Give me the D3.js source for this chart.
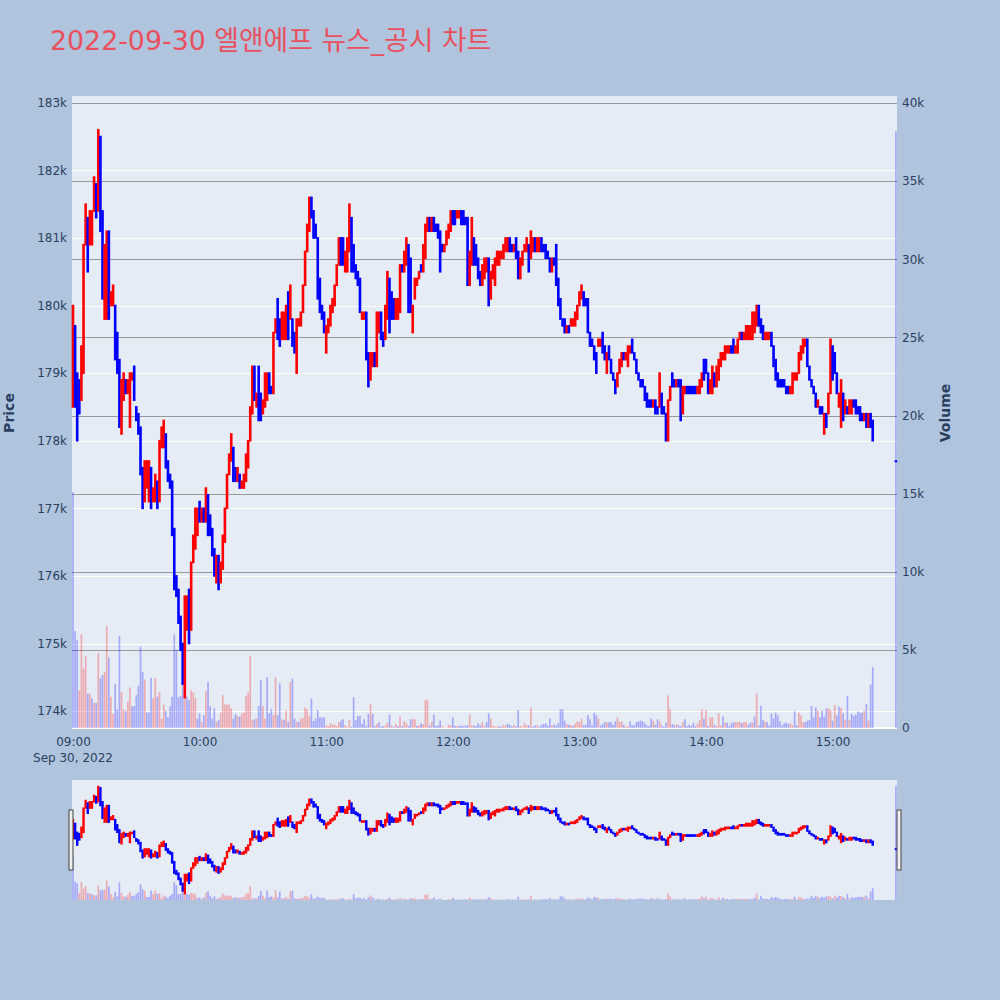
<!DOCTYPE html>
<html>
<head>
<meta charset="utf-8">
<script src="https://cdn.jsdelivr.net/npm/d3@7"></script>
<style>
  body { margin: 0; background: #b0c4de; }
  svg { display: block; font-family: "DejaVu Sans", "Noto Sans CJK KR", sans-serif; }
</style>
</head>
<body>
<div id="chart"></div>
<script>
// ---- data (prices in thousand won, one candle per minute from 09:00, plus the 15:30 close)
const chartTitle = "2022-09-30 엘앤에프 뉴스_공시 차트";
const firstMinute = "2022-09-30T09:00:00";
const lastMinute = "2022-09-30T15:19:00";
const closingAuction = "2022-09-30T15:30:00";

const opens = [
  178.5,179.7,179.0,178.9,178.6,179.0,180.9,181.3,180.9,180.9,181.4,181.8,181.4,182.5,181.4,179.8,179.8,181.1,180.0,180.0,
  180.0,179.6,179.2,178.1,178.6,178.9,178.7,178.2,178.9,179.1,178.5,178.4,178.2,177.6,177.1,177.3,177.1,177.6,177.1,177.1,
  177.4,177.1,177.9,177.9,178.1,177.7,177.5,177.4,176.7,176.0,175.8,175.4,175.0,174.2,175.2,175.8,175.2,176.2,176.4,176.6,
  177.1,176.8,177.0,176.8,177.2,176.9,176.7,176.4,175.9,176.3,175.9,176.1,176.5,177.0,177.5,177.7,177.9,177.6,177.4,177.5,
  177.3,177.3,177.4,177.6,178.0,178.4,179.1,178.5,179.1,178.7,178.4,178.5,178.6,179.0,178.8,178.7,179.6,180.1,179.8,179.5,
  179.5,179.5,180.2,179.8,179.8,179.6,179.0,179.7,179.7,179.9,180.3,180.8,181.1,181.6,181.4,181.2,181.0,180.4,180.0,179.9,
  179.3,179.6,179.7,179.9,180.0,180.3,180.6,181.0,181.0,180.5,180.5,180.8,181.3,180.9,180.6,180.5,180.4,179.8,179.8,179.9,
  179.3,178.9,179.1,179.3,179.1,179.6,179.9,179.6,179.5,179.8,180.4,180.2,180.1,179.8,179.8,179.9,180.6,180.5,180.6,180.9,
  180.7,179.6,180.1,180.3,180.4,180.6,180.5,180.7,181.1,181.3,181.1,181.3,181.2,181.2,181.1,180.9,180.8,180.9,181.0,181.1,
  181.4,181.4,181.3,181.3,181.4,181.4,181.3,181.3,180.3,180.6,181.0,180.9,180.7,180.5,180.3,180.4,180.5,180.7,180.1,180.4,
  180.3,180.6,180.6,180.7,180.7,180.8,180.8,181.0,180.9,180.8,181.0,180.8,180.4,180.6,180.8,180.8,180.9,180.7,180.8,181.0,
  180.8,180.8,181.0,180.9,180.9,180.8,180.7,180.5,180.7,180.9,180.4,180.1,179.8,179.8,179.6,179.7,179.7,179.7,179.7,179.8,
  180.0,180.1,180.2,180.1,180.1,179.6,179.5,179.4,179.3,179.4,179.4,179.6,179.4,179.0,179.4,179.2,179.0,178.9,178.8,179.0,
  179.1,179.3,179.2,179.1,179.3,179.5,179.3,179.2,179.0,178.9,178.9,178.8,178.7,178.6,178.6,178.5,178.6,178.5,178.5,178.7,
  178.5,178.4,178.0,178.6,179.0,178.9,178.8,178.9,178.9,178.4,178.7,178.8,178.8,178.8,178.8,178.8,178.7,178.7,178.8,179.2,
  179.2,179.0,178.7,178.7,179.0,178.8,178.9,179.1,179.2,179.2,179.3,179.3,179.4,179.5,179.3,179.3,179.5,179.6,179.5,179.5,
  179.5,179.5,179.5,179.6,179.7,180.0,179.8,179.7,179.5,179.5,179.5,179.6,179.4,179.2,179.0,178.9,178.9,178.9,178.8,178.8,
  178.7,178.7,178.9,178.9,179.0,179.2,179.3,179.4,179.5,179.1,178.9,178.8,178.7,178.5,178.5,178.5,178.1,178.4,178.4,178.7,
  179.4,179.3,179.0,178.5,178.2,178.7,178.4,178.5,178.4,178.4,178.6,178.6,178.5,178.5,178.4,178.3,178.4,178.2,178.4,178.3,
  177.7
];
const closes = [
  180.0,178.5,178.0,178.4,179.4,180.9,181.5,180.5,181.4,181.4,181.9,181.3,182.6,181.1,180.1,180.9,181.1,179.8,180.2,180.3,
  179.2,179.0,178.2,178.9,179.0,178.7,178.9,179.0,179.0,178.6,178.3,178.1,177.5,177.0,177.7,177.7,177.7,177.0,177.3,177.5,
  177.0,178.0,178.2,178.3,177.6,177.4,177.3,176.6,175.8,175.7,175.3,174.9,174.4,175.7,175.7,175.0,176.2,176.6,177.0,177.0,
  176.8,177.0,176.8,177.3,176.6,176.6,176.3,176.0,176.3,175.8,176.2,176.6,177.0,177.5,177.8,178.1,177.4,177.4,177.6,177.3,
  177.4,177.5,177.8,178.0,178.5,179.1,178.6,178.7,178.3,178.3,178.6,179.0,179.0,178.7,178.7,179.6,179.8,179.5,179.4,179.9,
  179.9,180.0,179.5,180.3,179.4,179.3,179.8,179.8,179.9,180.3,180.8,181.2,181.6,181.3,181.0,181.0,180.1,179.9,179.8,179.6,
  179.7,179.8,180.0,180.1,180.3,180.6,181.0,180.6,180.6,180.8,181.0,181.5,180.5,180.5,180.4,180.3,179.9,179.9,179.9,179.2,
  178.8,179.3,179.3,179.1,179.9,179.9,179.5,179.4,180.0,180.5,179.6,179.8,179.8,180.1,180.1,180.6,180.5,180.8,181.0,179.9,
  179.9,180.0,180.4,180.4,180.5,180.5,180.9,181.2,181.3,181.1,181.3,181.1,181.1,181.0,180.5,180.8,180.9,181.1,181.2,181.4,
  181.2,181.2,181.4,181.4,181.2,181.2,181.2,180.3,180.8,181.3,180.6,180.6,180.4,180.3,180.6,180.7,180.7,180.0,180.5,180.6,
  180.7,180.8,180.8,180.8,180.9,181.0,181.0,180.8,180.8,180.9,180.7,180.4,180.7,180.8,180.9,181.0,180.5,181.1,181.0,180.8,
  181.0,181.0,180.8,180.8,180.7,180.7,180.5,180.7,180.6,180.3,180.0,179.8,179.7,179.6,179.7,179.6,179.8,179.8,179.9,180.0,
  180.2,180.3,180.0,180.0,179.6,179.4,179.4,179.2,179.0,179.5,179.5,179.3,179.2,179.3,179.2,179.0,178.9,178.7,179.0,179.2,
  179.3,179.2,179.3,179.4,179.4,179.3,179.2,179.0,178.9,178.8,178.8,178.6,178.5,178.5,178.5,178.6,178.4,178.4,179.0,178.4,
  178.4,178.0,178.6,178.8,178.8,178.8,178.9,178.8,178.3,178.8,178.8,178.7,178.7,178.7,178.7,178.7,178.8,178.9,179.0,178.9,
  179.0,178.7,178.9,179.1,178.8,179.1,179.2,179.3,179.3,179.4,179.4,179.4,179.3,179.3,179.4,179.5,179.6,179.5,179.6,179.7,
  179.7,179.7,179.9,179.9,180.0,179.7,179.6,179.5,179.6,179.6,179.6,179.4,179.1,178.9,178.8,178.8,178.8,178.8,178.7,178.7,
  178.8,179.0,179.0,179.0,179.3,179.4,179.5,179.5,179.1,178.9,178.8,178.7,178.5,178.6,178.4,178.4,178.4,178.2,178.7,179.5,
  178.9,179.0,178.7,178.7,178.9,178.3,178.6,178.4,178.6,178.6,178.5,178.4,178.4,178.3,178.3,178.4,178.2,178.4,178.2,178.0,
  177.7
];
const volumes = [
  15100,6200,5600,2400,6000,3800,4600,2200,2200,1900,1600,1600,4800,3200,3400,3600,6500,4500,2000,900,
  2800,1200,5900,2300,1200,1100,1700,2600,1400,1400,2100,2700,5200,3600,3100,1000,1000,3200,1900,3200,
  2000,2300,600,1500,1100,700,1400,2000,6000,5000,1970,2050,2860,6200,2000,1800,2400,2270,1920,600,
  940,400,830,2350,2950,1400,600,1280,400,500,980,2100,1500,1500,1500,1260,600,900,770,730,
  940,980,2050,2260,4600,510,560,600,1410,3080,1410,600,3250,940,1200,830,3250,830,2860,560,
  510,1110,400,2950,3160,600,400,400,600,640,1320,1200,770,1880,450,600,1150,680,680,680,
  170,130,300,210,210,130,380,470,560,170,85,510,85,1970,510,770,770,260,560,130,
  900,1540,900,130,260,380,85,130,170,340,850,170,85,260,130,730,130,430,300,130,
  560,560,560,130,170,300,260,1800,1800,170,400,850,130,170,470,130,40,40,210,170,
  680,130,130,130,170,130,170,170,850,170,170,130,300,170,380,130,380,940,600,130,
  85,85,130,85,210,170,260,210,100,210,100,1150,130,85,300,170,170,1320,85,170,
  170,85,210,260,300,150,600,170,210,170,300,1200,1200,470,260,210,170,130,260,430,
  380,600,170,210,810,560,170,980,810,600,170,260,380,380,380,380,210,430,680,380,
  430,210,85,130,430,170,170,380,430,470,430,300,170,130,600,470,210,560,430,170,
  85,340,2090,1200,250,170,250,170,130,400,560,130,210,130,340,130,300,510,1200,600,
  1150,130,680,680,210,130,940,170,730,340,340,130,300,380,380,380,380,300,380,380,
  210,340,340,730,2220,170,1410,510,380,380,170,940,600,980,810,430,170,300,340,260,
  300,170,1070,170,980,810,380,380,470,510,1410,680,1320,1110,680,1110,730,1240,1280,1150,
  470,1470,810,1370,1280,940,510,2050,510,900,770,850,1070,980,980,1110,1540,470,2780,3890,
  38200
];

const priceTicks = [174, 175, 176, 177, 178, 179, 180, 181, 182, 183];
const volumeTicks = [0, 5000, 10000, 15000, 20000, 25000, 30000, 35000, 40000];
const timeTicks = ["09:00", "10:00", "11:00", "12:00", "13:00", "14:00", "15:00"];

// ---- build the candle table
const parseTime = d3.timeParse("%Y-%m-%dT%H:%M:%S");
const times = d3.timeMinute.range(parseTime(firstMinute), d3.timeMinute.offset(parseTime(lastMinute), 1));
times.push(parseTime(closingAuction));

const candles = times.map((t, i) => ({
  time: t,
  open: opens[i],
  close: closes[i],
  volume: volumes[i],
  up: closes[i] > opens[i],
  volUp: i > 0 && closes[i] > closes[i - 1]
}));

const W = 1000, H = 1000;
const plot = { left: 72, right: 897, top: 96, bottom: 728 };
const slider = { top: 780, bottom: 900 };
const ink = "#2a3f5f";
const upColor = "red", downColor = "blue";

const svg = d3.select("#chart").append("svg")
    .attr("width", W)
    .attr("height", H);

svg.append("rect").attr("width", W).attr("height", H).attr("fill", "#b0c4de");

// scales
const x = d3.scaleTime()
    .domain([parseTime("2022-09-30T08:59:32"), parseTime("2022-09-30T15:30:30")])
    .range([plot.left, plot.right]);
const y = d3.scaleLinear().domain([173.75, 183.1]).range([plot.bottom, plot.top]);
const yVol = d3.scaleLinear().domain([0, 40450]).range([plot.bottom, plot.top]);

// plot background
svg.append("rect")
    .attr("x", plot.left).attr("y", plot.top)
    .attr("width", plot.right - plot.left).attr("height", plot.bottom - plot.top)
    .attr("fill", "#e5ecf6");

// grid: price (white) and volume (grey)
svg.append("g").selectAll("line").data(priceTicks).join("line")
    .attr("x1", plot.left).attr("x2", plot.right)
    .attr("y1", d => Math.round(y(d)) + 0.5).attr("y2", d => Math.round(y(d)) + 0.5)
    .attr("stroke", "#fff").attr("stroke-width", 1);

svg.append("g").selectAll("line").data(volumeTicks.slice(1)).join("line")
    .attr("x1", plot.left).attr("x2", plot.right)
    .attr("y1", d => Math.round(yVol(d)) + 0.5).attr("y2", d => Math.round(yVol(d)) + 0.5)
    .attr("stroke", "#999").attr("stroke-width", 1);

svg.append("line")
    .attr("x1", plot.left).attr("x2", plot.right)
    .attr("y1", yVol(0)).attr("y2", yVol(0))
    .attr("stroke", "#fff").attr("stroke-width", 2);

// volume bars
const barW = 1.7;
svg.append("g").selectAll("rect").data(candles).join("rect")
    .attr("x", d => x(d.time) - barW / 2)
    .attr("width", barW)
    .attr("y", d => yVol(d.volume))
    .attr("height", d => yVol(0) - yVol(d.volume))
    .attr("fill", d => d.volUp ? upColor : downColor)
    .attr("fill-opacity", 0.28);

// candles
function drawCandles(g, xs, ys, bodyW, strokeW) {
  g.selectAll("rect").data(candles).join("rect")
      .attr("x", d => xs(d.time) - bodyW / 2)
      .attr("width", bodyW)
      .attr("y", d => Math.min(ys(d.open), ys(d.close)))
      .attr("height", d => Math.max(0.5, Math.abs(ys(d.open) - ys(d.close))))
      .attr("fill", d => d.up ? upColor : downColor)
      .attr("stroke", d => d.up ? upColor : downColor)
      .attr("stroke-width", strokeW);
}
drawCandles(svg.append("g"), x, y, 1, 1.6);

// axes
const fmtK = d => d === 0 ? "0" : (d >= 1000 ? d / 1000 : d) + "k";

const leftAxis = svg.append("g")
    .attr("transform", `translate(${plot.left},0)`)
    .call(d3.axisLeft(y).tickValues(priceTicks).tickFormat(d => d + "k").tickSize(0).tickPadding(5));
const rightAxis = svg.append("g")
    .attr("transform", `translate(${plot.right},0)`)
    .call(d3.axisRight(yVol).tickValues(volumeTicks).tickFormat(fmtK).tickSize(0).tickPadding(5));
const bottomAxis = svg.append("g")
    .attr("transform", `translate(0,${plot.bottom})`)
    .call(d3.axisBottom(x)
      .tickValues(timeTicks.map(t => parseTime("2022-09-30T" + t + ":00")))
      .tickFormat(d3.timeFormat("%H:%M")).tickSize(0).tickPadding(9));

[leftAxis, rightAxis, bottomAxis].forEach(a => {
  a.select(".domain").remove();
  a.selectAll("text").attr("fill", ink).attr("font-size", 12)
      .attr("font-family", "'DejaVu Sans', sans-serif");
});

svg.append("text")
    .attr("x", x(parseTime(firstMinute))).attr("y", 762)
    .attr("text-anchor", "middle")
    .attr("fill", ink).attr("font-size", 12)
    .text("Sep 30, 2022");

// axis titles
svg.append("text")
    .attr("transform", "translate(14,413) rotate(-90)")
    .attr("text-anchor", "middle")
    .attr("fill", ink).attr("font-size", 14).attr("font-weight", "bold")
    .text("Price");
svg.append("text")
    .attr("transform", "translate(950,413) rotate(-90)")
    .attr("text-anchor", "middle")
    .attr("fill", ink).attr("font-size", 14).attr("font-weight", "bold")
    .text("Volume");

// title
svg.append("text")
    .attr("x", 50).attr("y", 50)
    .attr("fill", "#e9505e").attr("font-size", 26.8)
    .text(chartTitle);

// ---- range slider
svg.append("rect")
    .attr("x", plot.left).attr("y", slider.top)
    .attr("width", plot.right - plot.left).attr("height", slider.bottom - slider.top)
    .attr("fill", "#e5ecf6");

const pMin = d3.min(candles, d => Math.min(d.open, d.close));
const pMax = d3.max(candles, d => Math.max(d.open, d.close));
const pad = (pMax - pMin) * 0.06;
const ySlide = d3.scaleLinear().domain([pMin - pad, pMax + pad]).range([slider.bottom, slider.top]);
const yVolSlide = d3.scaleLinear().domain([0, d3.max(volumes) * 1.05]).range([slider.bottom, slider.top]);

svg.append("g").selectAll("rect").data(candles).join("rect")
    .attr("x", d => x(d.time) - barW / 2)
    .attr("width", barW)
    .attr("y", d => yVolSlide(d.volume))
    .attr("height", d => slider.bottom - yVolSlide(d.volume))
    .attr("fill", d => d.volUp ? upColor : downColor)
    .attr("fill-opacity", 0.28);

drawCandles(svg.append("g"), x, ySlide, 1, 1.4);

const grabH = (slider.bottom - slider.top) / 2;
[plot.left - 1, plot.right + 2].forEach(cx => {
  svg.append("rect")
      .attr("x", cx - 2).attr("y", slider.top + grabH / 2)
      .attr("width", 4).attr("height", grabH)
      .attr("fill", "#eee").attr("stroke", "#444").attr("stroke-width", 1);
});
</script>
</body>
</html>
